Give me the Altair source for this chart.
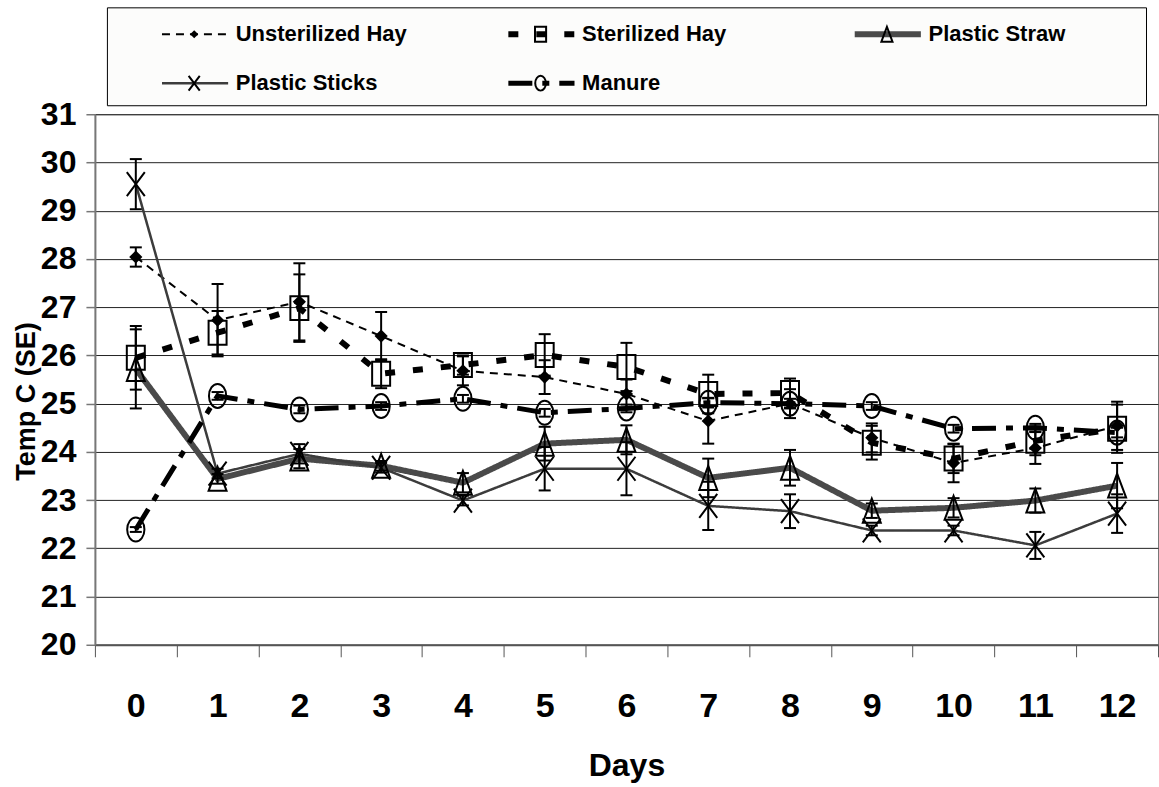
import altair as alt
import pandas as pd

# ---------------- data ----------------
days = list(range(13))
series_names = ["Unsterilized Hay", "Sterilized Hay", "Plastic Straw", "Plastic Sticks", "Manure"]

unsterilized = [28.04, 26.73, 27.11, 26.40, 25.68, 25.55, 25.20, 24.64, 25.00, 24.29, 23.77, 24.08, 24.54]
unsterilized_se = [0.20, 0.75, 0.80, 0.50, 0.30, 0.35, 0.30, 0.47, 0.30, 0.30, 0.40, 0.33, 0.50]

sterilized = [25.95, 26.47, 26.98, 25.62, 25.80, 26.01, 25.76, 25.20, 25.22, 24.19, 23.86, 24.23, 24.48]
sterilized_se = [0.66, 0.45, 0.70, 0.30, 0.20, 0.43, 0.50, 0.40, 0.30, 0.35, 0.30, 0.30, 0.50]

straw = [25.72, 23.44, 23.86, 23.71, 23.36, 24.17, 24.25, 23.46, 23.67, 22.78, 22.84, 22.99, 23.30]
straw_se = [0.82, 0.10, 0.20, 0.10, 0.20, 0.35, 0.30, 0.40, 0.37, 0.15, 0.20, 0.25, 0.47]

sticks = [29.55, 23.55, 23.96, 23.67, 22.99, 23.65, 23.65, 22.88, 22.77, 22.37, 22.37, 22.06, 22.72]
sticks_se = [0.52, 0.10, 0.20, 0.10, 0.10, 0.45, 0.55, 0.50, 0.35, 0.10, 0.10, 0.28, 0.40]

manure = [22.39, 25.16, 24.88, 24.95, 25.10, 24.81, 24.90, 25.02, 25.00, 24.95, 24.48, 24.50, 24.40]
manure_se = [0.05, 0.08, 0.08, 0.08, 0.08, 0.08, 0.08, 0.10, 0.10, 0.08, 0.08, 0.08, 0.10]

y_ticks = list(range(20, 32))
legend_cols = [0, 1, 2, 0, 1]
legend_rows = [0, 0, 0, 1, 1]

# ---------------- tables ----------------
records = []
for name, vals, ses in zip(series_names,
                           [unsterilized, sterilized, straw, sticks, manure],
                           [unsterilized_se, sterilized_se, straw_se, sticks_se, manure_se]):
    for d, v, s in zip(days, vals, ses):
        records.append({"series": name, "day": d, "temp": v, "lo": v - s, "hi": v + s})
df = pd.DataFrame(records)

legend_df = pd.DataFrame({"series": series_names, "col": legend_cols, "row": legend_rows})

# ---------------- styles ----------------
FONT = "Liberation Sans, Arial"

line_colors = ["black", "black", "#4a4a4a", "#3c3c3c", "black"]
line_dashes = [[8, 6], [10, 18], [1, 0], [1, 0], [24, 10, 7, 10]]
line_widths = [2, 6, 6, 2.5, 5]
shape_paths = [
    "M0,-0.55L0.55,0L0,0.55L-0.55,0Z",
    "M-0.75,-1L0.75,-1L0.75,1L-0.75,1Z",
    "M0,-1L0.75,1L-0.75,1Z",
    "M-0.75,-1L0.75,1M0.75,-1L-0.75,1",
    "M0.72,0A0.72,1,0,1,1,-0.72,0A0.72,1,0,1,1,0.72,0Z",
]

color_enc = alt.Color("series:N", scale=alt.Scale(domain=series_names, range=line_colors), legend=None)
dash_enc = alt.StrokeDash("series:N", scale=alt.Scale(domain=series_names, range=line_dashes), legend=None)
width_enc = alt.StrokeWidth("series:N", scale=alt.Scale(type="ordinal", domain=series_names, range=line_widths), legend=None)
shape_enc = alt.Shape("series:N", scale=alt.Scale(domain=series_names, range=shape_paths), legend=None)

x_scale = alt.Scale(type="band", paddingInner=0, paddingOuter=0)
x_axis = alt.Axis(
    tickBand="extent", labelAngle=0, grid=False,
    domainColor="#555555", domainWidth=2,
    tickColor="#555555", tickSize=12, tickWidth=1,
    labelFont=FONT, labelFontSize=34, labelFontWeight="bold", labelColor="black", labelPadding=33,
    titleFont=FONT, titleFontSize=32, titleFontWeight="bold", titleColor="black", titlePadding=27,
)
y_scale = alt.Scale(domain=[20, 31], nice=False, zero=False)
y_axis = alt.Axis(
    values=y_ticks, grid=True, gridColor="#222222", gridWidth=1,
    domainColor="#777777", domainWidth=2,
    tickColor="#777777", tickSize=9, tickWidth=1.5,
    labelFont=FONT, labelFontSize=32, labelFontWeight="bold", labelColor="black", labelPadding=10,
    labelOverlap=False,
    titleFont=FONT, titleFontSize=27, titleFontWeight="bold", titleColor="black", titlePadding=0,
    titleY=287,
)


def X():
    return alt.X("day:O", scale=x_scale, axis=x_axis, title="Days")


def Y(field):
    return alt.Y(field, type="quantitative", scale=y_scale, axis=y_axis, title="Temp C (SE)")


base = alt.Chart(df)

lines = base.mark_line().encode(x=X(), y=Y("temp"), color=color_enc, strokeDash=dash_enc, strokeWidth=width_enc)
err_rule = base.mark_rule(color="black", strokeWidth=2).encode(x=X(), y=Y("lo"), y2="hi")
err_lo = base.mark_tick(color="black", size=12, thickness=2, opacity=1).encode(x=X(), y=Y("lo"))
err_hi = base.mark_tick(color="black", size=12, thickness=2, opacity=1).encode(x=X(), y=Y("hi"))
pts_filled = base.transform_filter(alt.datum.series == "Unsterilized Hay").mark_point(
    filled=True, size=576, color="black", opacity=1
).encode(x=X(), y=Y("temp"), shape=shape_enc)
pts_hollow = base.transform_filter(alt.datum.series != "Unsterilized Hay").mark_point(
    filled=False, size=576, color="black", strokeWidth=2, opacity=1
).encode(x=X(), y=Y("temp"), shape=shape_enc)

plot = alt.layer(lines, err_rule, err_lo, err_hi, pts_hollow, pts_filled).properties(
    width=1064, height=531,
    view=alt.ViewBackground(stroke="#777777", strokeWidth=1, fill="white"),
)

# ---------------- legend panel ----------------
lx = alt.Scale(domain=[0, 3], nice=False, zero=False)
ly = alt.Scale(domain=[0, 2], nice=False, zero=False, reverse=True)
lbase = alt.Chart(legend_df).transform_calculate(
    xs="datum.col + 0.159",
    xe="datum.col + 0.35",
    xm="datum.col + 0.252",
    xt="datum.col + 0.372",
    yr="datum.row + 0.55",
)
leg_line = lbase.mark_rule().encode(
    x=alt.X("xs:Q", scale=lx, axis=None), x2="xe:Q",
    y=alt.Y("yr:Q", scale=ly, axis=None),
    color=color_enc, strokeDash=dash_enc, strokeWidth=width_enc,
)
leg_pt_f = lbase.transform_filter(alt.datum.series == "Unsterilized Hay").mark_point(
    filled=True, size=220, color="black", opacity=1
).encode(x=alt.X("xm:Q", scale=lx, axis=None), y=alt.Y("yr:Q", scale=ly, axis=None), shape=shape_enc)
leg_pt_h = lbase.transform_filter(alt.datum.series != "Unsterilized Hay").mark_point(
    filled=False, size=220, color="black", strokeWidth=2, opacity=1
).encode(x=alt.X("xm:Q", scale=lx, axis=None), y=alt.Y("yr:Q", scale=ly, axis=None), shape=shape_enc)
leg_text = lbase.mark_text(
    align="left", baseline="middle", font=FONT, fontSize=22, fontWeight="bold", color="black"
).encode(x=alt.X("xt:Q", scale=lx, axis=None), y=alt.Y("yr:Q", scale=ly, axis=None), text="series:N")

legend_panel = alt.layer(leg_line, leg_pt_h, leg_pt_f, leg_text).properties(
    width=1040, height=98,
    view=alt.ViewBackground(stroke="black", strokeWidth=1, fill="#fcfcfb"),
)

chart = alt.vconcat(legend_panel, plot, spacing=9, bounds="flush", center=True).properties(
    padding={"left": 11, "top": 6, "right": 0, "bottom": 0},
    background="white",
).resolve_scale(color="shared")

chart.save("out.html", embed_options={"renderer": "svg", "actions": False})
